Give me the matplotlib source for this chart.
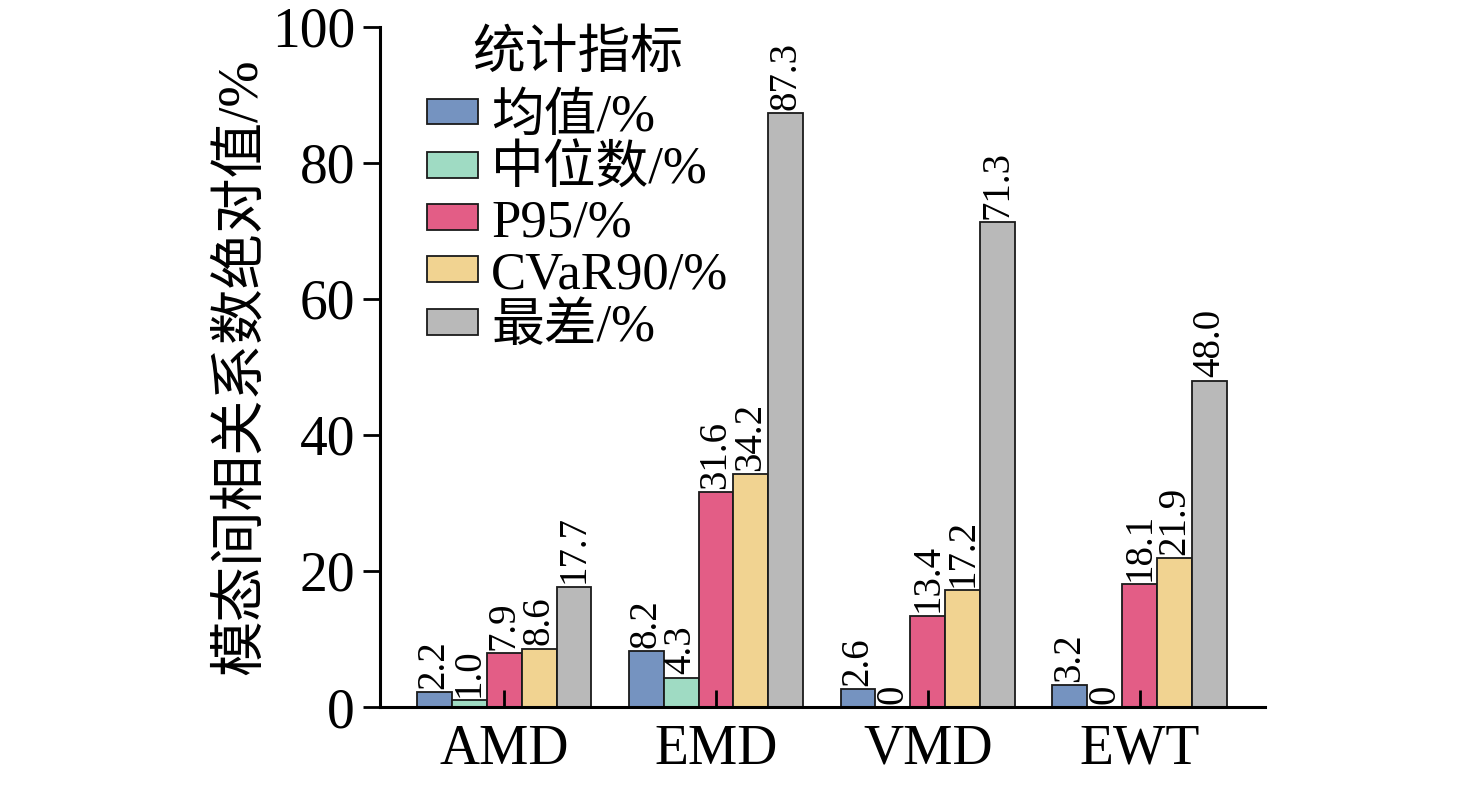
import numpy as np
import matplotlib.pyplot as plt

plt.rcParams['font.family'] = ['Liberation Serif', 'Noto Sans CJK SC', 'DejaVu Sans']

methods = ['AMD', 'EMD', 'VMD', 'EWT']
metrics = ['均值/%', '中位数/%', 'P95/%', 'CVaR90/%', '最差/%']
values = {
    '均值/%': [2.2, 8.2, 2.6, 3.2],
    '中位数/%': [1.0, 4.3, 0.0, 0.0],
    'P95/%': [7.9, 31.6, 13.4, 18.1],
    'CVaR90/%': [8.6, 34.2, 17.2, 21.9],
    '最差/%': [17.7, 87.3, 71.3, 48.0],
}
colors = ['#7593C0', '#9FDBC3', '#E35D86', '#F1D391', '#B9B9B9']

fig = plt.figure(figsize=(14.76, 7.86), dpi=100)
ax = fig.add_axes([0.2575, 0.1005, 0.5995, 0.8652])

x = np.arange(len(methods))
w = 0.165
for i, m in enumerate(metrics):
    pos = x + (i - 2) * w
    bars = ax.bar(pos, values[m], w, color=colors[i], edgecolor='#1a1a1a',
                  linewidth=1.3, label=m)
    for b, v in zip(bars, values[m]):
        txt = '0' if v == 0 else f'{v:.1f}'
        ax.text(b.get_x() + b.get_width() / 2, v + 0.5, txt, rotation=90,
                ha='center', va='bottom', fontsize=28)

ax.set_xlim(-0.585, 3.59)
ax.set_ylim(0, 100)
ax.set_yticks([0, 20, 40, 60, 80, 100])
ax.set_xticks(x)
ax.set_xticklabels(methods)
ax.tick_params(axis='y', direction='out', length=12, width=2, labelsize=40, pad=6)
ax.tick_params(axis='x', direction='in', length=12, width=2, labelsize=40, pad=12)
for s in ['top', 'right']:
    ax.spines[s].set_visible(False)
for s in ['left', 'bottom']:
    ax.spines[s].set_linewidth(2.2)

ax.set_ylabel('模态间相关系数绝对值/%', fontsize=40, labelpad=3)

leg = ax.legend(title='统计指标', loc='upper left', bbox_to_anchor=(0.053, 0.995),
                frameon=False, fontsize=38, title_fontsize=38,
                handlelength=0.97, handleheight=0.38, handletextpad=0.25,
                labelspacing=0.08, borderaxespad=0, borderpad=0)
leg._legend_box.align = 'center'
leg._legend_box.sep = 10

fig.savefig('out.png', dpi=100)
